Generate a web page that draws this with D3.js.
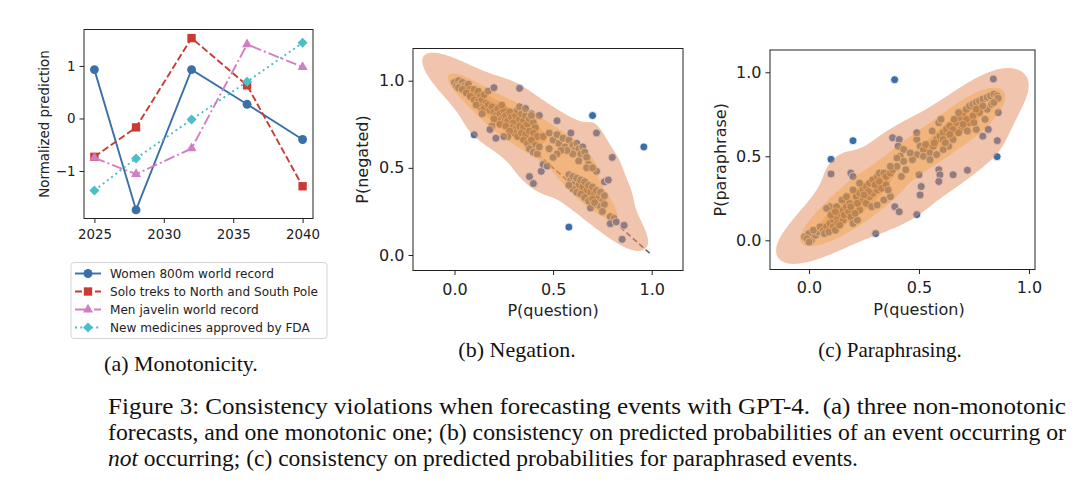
<!DOCTYPE html>
<html><head><meta charset="utf-8">
<script src="https://cdn.jsdelivr.net/npm/d3@7"></script>
<style>
body{margin:0;background:#fff}
svg{display:block}
text{font-family:'DejaVu Sans',sans-serif;fill:#222}
.serif{font-family:'Liberation Serif','Times New Roman',serif;fill:#111}
</style></head>
<body><svg id="fig" width="1080" height="499"></svg>
<script>
// ---------------- DATA ----------------
const years = [2025, 2028, 2032, 2036, 2040];
const seriesNames = ["Women 800m world record", "Solo treks to North and South Pole", "Men javelin world record", "New medicines approved by FDA"];
const women800m   = [0.93, -1.74, 0.93, 0.27, -0.40];
const soloTreks   = [-0.73, -0.17, 1.53, 0.63, -1.29];
const menJavelin  = [-0.75, -1.06, -0.57, 1.41, 0.98];
const newMedicines= [-1.37, -0.76, -0.02, 0.70, 1.44];
const yearTicks = [2025, 2030, 2035, 2040];
const predTicks = [-1, 0, 1];
const probTicks = [0, 0.5, 1];

// (b) P(question) vs P(negated)
const negationPoints = [
[0.00,0.99],[0.01,0.97],[0.02,1.00],[0.03,0.98],[0.04,0.99],[0.05,0.97],[0.06,0.96],[0.02,0.96],[0.04,0.95],[0.07,0.98],
[0.08,0.95],[0.09,0.93],[0.06,0.93],[0.10,0.95],[0.11,0.92],[0.12,0.94],[0.13,0.91],[0.08,0.91],[0.10,0.89],[0.12,0.88],
[0.14,0.89],[0.15,0.92],[0.16,0.87],[0.13,0.85],[0.11,0.86],[0.15,0.84],[0.17,0.86],[0.18,0.83],[0.14,0.81],[0.17,0.94],[0.20,0.96],
[0.19,0.85],[0.20,0.82],[0.21,0.80],[0.22,0.84],[0.23,0.81],[0.24,0.78],[0.25,0.83],[0.26,0.80],[0.22,0.77],[0.20,0.78],
[0.19,0.74],[0.23,0.75],[0.27,0.77],[0.28,0.82],[0.29,0.79],[0.30,0.76],[0.31,0.80],[0.32,0.83],[0.33,0.78],[0.34,0.81],
[0.35,0.77],[0.36,0.80],[0.29,0.73],[0.31,0.72],[0.33,0.74],[0.35,0.73],[0.37,0.75],[0.38,0.78],[0.39,0.81],[0.40,0.76],
[0.41,0.73],[0.30,0.70],[0.32,0.68],[0.34,0.70],[0.36,0.69],[0.38,0.71],[0.40,0.70],[0.42,0.68],[0.35,0.66],[0.37,0.64],
[0.39,0.66],[0.41,0.63],[0.38,0.61],[0.40,0.59],[0.42,0.58],[0.43,0.62],[0.26,0.74],[0.28,0.71],[0.27,0.68],[0.25,0.68],
[0.21,0.67],[0.18,0.72],[0.43,0.80],[0.39,0.80],[0.24,0.86],[0.33,0.85],[0.36,0.84],
[0.38,0.45],[0.40,0.41],[0.44,0.48],[0.45,0.52],[0.47,0.51],[0.48,0.61],
[0.45,0.68],[0.48,0.70],[0.50,0.66],[0.52,0.69],[0.53,0.64],[0.55,0.67],[0.56,0.62],[0.58,0.66],[0.59,0.70],[0.60,0.63],
[0.61,0.60],[0.62,0.64],[0.63,0.61],[0.64,0.58],[0.65,0.62],[0.66,0.59],[0.67,0.56],[0.60,0.58],[0.57,0.60],[0.54,0.60],
[0.52,0.58],[0.50,0.56],[0.52,0.77],[0.63,0.54],[0.68,0.52],[0.69,0.50],[0.67,0.50],[0.72,0.70],[0.80,0.56],
[0.58,0.46],[0.59,0.43],[0.60,0.45],[0.61,0.41],[0.62,0.44],[0.63,0.40],[0.64,0.43],[0.65,0.39],[0.66,0.42],[0.67,0.37],
[0.68,0.40],[0.69,0.36],[0.70,0.39],[0.71,0.35],[0.72,0.37],[0.73,0.33],[0.74,0.36],[0.75,0.31],[0.76,0.34],[0.60,0.38],
[0.62,0.36],[0.64,0.35],[0.66,0.33],[0.68,0.31],[0.70,0.32],[0.72,0.29],[0.74,0.28],[0.76,0.29],[0.69,0.27],[0.71,0.30],
[0.58,0.40],[0.76,0.42],[0.78,0.43],[0.72,0.48],[0.70,0.50],
[0.79,0.22],[0.81,0.21],[0.79,0.18],[0.82,0.19],[0.86,0.17],[0.85,0.09],[0.75,0.25],
[0.33,0.956],[0.10,0.69],[0.70,0.80],[0.96,0.62],[0.58,0.16]
];

// (c) P(question) vs P(paraphrase)
const paraphrasePoints = [
[-0.02,0.02],[0.00,0.04],[0.01,0.00],[-0.01,0.01],[0.03,0.03],[0.04,0.05],[0.02,0.06],[0.00,-0.01],[0.05,0.08],
[0.065,0.06],[0.08,0.08],[0.095,0.10],[0.11,0.12],[0.125,0.14],[0.14,0.16],[0.155,0.18],[0.17,0.20],[0.185,0.22],[0.11,0.08],
[0.13,0.10],[0.155,0.12],[0.095,0.20],[0.08,0.19],[0.125,0.20],[0.15,0.24],[0.17,0.26],[0.19,0.40],[0.20,0.38],[0.07,0.04],
[0.09,0.05],[0.12,0.06],[0.14,0.09],[0.10,0.15],[0.12,0.17],[0.16,0.15],[0.18,0.17],[0.19,0.14],[0.20,0.10],[0.22,0.12],
[0.215,0.26],[0.23,0.28],[0.245,0.30],[0.26,0.32],[0.275,0.34],[0.29,0.36],[0.31,0.38],[0.32,0.40],[0.34,0.40],[0.35,0.38],
[0.37,0.40],[0.38,0.42],[0.40,0.44],[0.245,0.24],[0.26,0.22],[0.275,0.26],[0.29,0.28],[0.31,0.30],[0.285,0.20],[0.31,0.21],
[0.34,0.24],[0.37,0.26],[0.23,0.18],[0.21,0.16],[0.19,0.20],[0.39,0.20],[0.41,0.17],[0.38,0.61],[0.41,0.60],[0.405,0.56],
[0.43,0.54],[0.415,0.50],[0.43,0.47],[0.40,0.49],[0.37,0.44],[0.30,0.33],[0.32,0.35],[0.33,0.31],[0.35,0.33],[0.36,0.30],
[0.27,0.29],[0.25,0.27],[0.22,0.22],[0.20,0.30],[0.23,0.34],[0.42,0.38],[0.44,0.42],
[0.49,0.60],[0.505,0.56],[0.52,0.54],[0.49,0.51],[0.52,0.50],[0.55,0.52],[0.565,0.56],[0.58,0.60],[0.595,0.62],[0.61,0.64],
[0.625,0.66],[0.61,0.60],[0.59,0.70],[0.60,0.72],[0.64,0.68],[0.655,0.60],[0.635,0.56],[0.61,0.54],[0.58,0.51],[0.55,0.48],
[0.50,0.39],[0.51,0.32],[0.505,0.27],[0.59,0.42],[0.595,0.39],[0.59,0.35],[0.655,0.39],[0.49,0.64],[0.47,0.48],[0.46,0.52],
[0.53,0.57],[0.57,0.58],[0.62,0.58],[0.56,0.65],
[0.67,0.70],[0.685,0.73],[0.70,0.76],[0.715,0.78],[0.73,0.80],[0.745,0.81],[0.76,0.82],[0.775,0.83],[0.79,0.84],[0.81,0.85],
[0.825,0.86],[0.84,0.87],[0.855,0.86],[0.86,0.845],[0.86,0.76],[0.79,0.62],[0.815,0.66],[0.76,0.66],[0.73,0.70],[0.715,0.72],
[0.745,0.74],[0.775,0.76],[0.81,0.78],[0.83,0.81],[0.695,0.67],[0.655,0.66],[0.64,0.63],[0.76,0.78],[0.79,0.80],[0.70,0.69],
[0.72,0.65],[0.68,0.64],[0.75,0.70],[0.80,0.72],[0.84,0.82],[0.66,0.72],[0.68,0.76],
[0.389,0.956],[0.838,0.96],[0.20,0.593],[0.856,0.593],[0.10,0.482],[0.10,0.395],[0.855,0.498],[0.72,0.417],[0.49,0.153],[0.303,0.04]
];

const kdeLevelsB = [0.05, 0.32, 0.72];
const kdeLevelsC = [0.06, 0.32, 0.72];

const subCaptions = ["(a) Monotonicity.", "(b) Negation.", "(c) Paraphrasing."];
const captionLines = [
  "Figure 3: Consistency violations when forecasting events with GPT-4.  (a) three non-monotonic",
  "forecasts, and one monotonic one; (b) consistency on predicted probabilities of an event occurring or",
  " occurring; (c) consistency on predicted probabilities for paraphrased events."
];

// ---------------- DRAW ----------------
const svg = d3.select("#fig");
svg.append("rect").attr("width",1080).attr("height",499).attr("fill","#fff");

const seriesVals = [women800m, soloTreks, menJavelin, newMedicines];
const colors = ["#3a6fa8", "#c93b33", "#d17fc5", "#4dbdc9"];
const dashes = [null, "7,3", "11,3,2,3", "2,3.3"];
const symbols = [d3.symbolCircle, d3.symbolSquare, d3.symbolTriangle, d3.symbolSquare];
const symSizes = [62, 70, 44, 50];
const symRot = [0, 0, 0, 45];

function styleAxis(fs){
  return g=>{
    g.select(".domain").remove();
    g.selectAll(".tick line").attr("stroke","#222").attr("stroke-width",1);
    g.selectAll(".tick text").attr("font-size",fs).attr("fill","#222").attr("font-family","'DejaVu Sans',sans-serif");
  };
}
function frame(box){
  svg.append("rect").attr("x",box.l).attr("y",box.t).attr("width",box.r-box.l).attr("height",box.b-box.t)
    .attr("fill","none").attr("stroke","#222").attr("stroke-width",1);
}

// ---- Panel (a)
const A = {l:84, r:313, t:29.5, b:218.5};
const xA = d3.scaleLinear().domain([2024.25, 2040.75]).range([A.l, A.r]);
const yA = d3.scaleLinear().domain([-1.9035, 1.6935]).range([A.b, A.t]);
const gA = svg.append("g");
seriesVals.forEach((vals,i)=>{
  const pts = years.map((y,k)=>[y, vals[k]]);
  gA.append("path").datum(pts)
    .attr("d", d3.line().x(d=>xA(d[0])).y(d=>yA(d[1])))
    .attr("fill","none").attr("stroke",colors[i]).attr("stroke-width",1.9)
    .attr("stroke-dasharray", dashes[i]);
  gA.selectAll(null).data(pts).enter().append("path")
    .attr("d", d3.symbol(symbols[i], symSizes[i]))
    .attr("transform", d=>`translate(${xA(d[0])},${yA(d[1])}) rotate(${symRot[i]})`)
    .attr("fill", colors[i]);
});
frame(A);
svg.append("g").attr("transform",`translate(0,${A.b})`)
  .call(d3.axisBottom(xA).tickValues(yearTicks).tickFormat(d3.format("d")).tickSizeOuter(0).tickSize(4.5).tickPadding(6))
  .call(styleAxis(13.4));
svg.append("g").attr("transform",`translate(${A.l},0)`)
  .call(d3.axisLeft(yA).tickValues(predTicks).tickFormat(d=>d<0?"\u2212"+Math.abs(d):d).tickSizeOuter(0).tickSize(4.5).tickPadding(4))
  .call(styleAxis(13.4));
svg.append("text").attr("transform",`translate(49,${(A.t+A.b)/2}) rotate(-90)`)
  .attr("text-anchor","middle").attr("font-size",13.4).text("Normalized prediction");

// legend
const L = {x:71, y:262.5, w:256, h:76};
svg.append("rect").attr("x",L.x).attr("y",L.y).attr("width",L.w).attr("height",L.h).attr("rx",3)
  .attr("fill","#fff").attr("stroke","#d4d4d4").attr("stroke-width",1);
seriesNames.forEach((name,i)=>{
  const cy = 273.5 + i*18;
  svg.append("line").attr("x1",75).attr("x2",101).attr("y1",cy).attr("y2",cy)
    .attr("stroke",colors[i]).attr("stroke-width",1.9).attr("stroke-dasharray",dashes[i]);
  svg.append("path").attr("d", d3.symbol(symbols[i], symSizes[i]))
    .attr("transform",`translate(88,${cy}) rotate(${symRot[i]})`).attr("fill",colors[i]);
  svg.append("text").attr("x",110).attr("y",cy).attr("dy","0.35em").attr("font-size",12.1).text(name);
});

// ---- scatter + KDE panels
function kdeGrid(points, xd, yd, nx, ny, bw, mix){
  const n = points.length;
  const mx = d3.mean(points,d=>d[0]), my = d3.mean(points,d=>d[1]);
  let sxx=0, syy=0, sxy=0;
  points.forEach(([x,y])=>{sxx+=(x-mx)**2; syy+=(y-my)**2; sxy+=(x-mx)*(y-my);});
  sxx/=(n-1); syy/=(n-1); sxy/=(n-1);
  const iso = (sxx+syy)/2;
  const f2 = Math.pow(n, -1/3)*bw*bw;
  const a=((1-mix)*sxx+mix*iso)*f2, b=(1-mix)*sxy*f2, c=((1-mix)*syy+mix*iso)*f2, det=a*c-b*b;
  const ia=c/det, ib=-b/det, ic=a/det;
  const vals = new Float64Array(nx*ny);
  for(let j=0;j<ny;j++){
    const y = yd[1] - (j+0.5)*(yd[1]-yd[0])/ny;
    for(let i=0;i<nx;i++){
      const x = xd[0] + (i+0.5)*(xd[1]-xd[0])/nx;
      let s=0;
      for(let k=0;k<n;k++){
        const dx=x-points[k][0], dy=y-points[k][1];
        s += Math.exp(-0.5*(ia*dx*dx+2*ib*dx*dy+ic*dy*dy));
      }
      vals[j*nx+i]=s;
    }
  }
  return vals;
}
function isoLevels(vals, props){
  const sorted = Array.from(vals).sort((p,q)=>q-p);
  const total = d3.sum(sorted);
  return props.map(p=>{
    const target=(1-p)*total; let cum=0;
    for(const v of sorted){cum+=v; if(cum>=target) return v;}
    return sorted[sorted.length-1];
  });
}

function scatterPanel(id, box, xdom, ydom, points, ylabel, diag, xlabY, ylabX, bw, mix, levels, xpad){
  const x = d3.scaleLinear().domain(xdom).range([box.l, box.r]);
  const y = d3.scaleLinear().domain(ydom).range([box.b, box.t]);
  const clip = svg.append("clipPath").attr("id","clip"+id);
  clip.append("rect").attr("x",box.l).attr("y",box.t).attr("width",box.r-box.l).attr("height",box.b-box.t);
  const g = svg.append("g").attr("clip-path",`url(#clip${id})`);
  if(diag){
    g.append("path").datum(diag)
      .attr("d", d3.line().x(d=>x(d[0])).y(d=>y(d[1])))
      .attr("fill","none").attr("stroke","#6a6a6a").attr("stroke-width",1.6).attr("stroke-dasharray","5.5,3");
  }
  g.selectAll(null).data(points).enter().append("circle")
    .attr("cx",d=>x(d[0])).attr("cy",d=>y(d[1])).attr("r",4)
    .attr("fill","#3a6ea8").attr("stroke","#fff").attr("stroke-width",0.8);
  const ex = 0.3*(xdom[1]-xdom[0]), ey = 0.3*(ydom[1]-ydom[0]);
  const gx=[xdom[0]-ex, xdom[1]+ex], gy=[ydom[0]-ey, ydom[1]+ey];
  const nx = 220, ny = 190;
  const vals = kdeGrid(points, gx, gy, nx, ny, bw, mix);
  const lv = isoLevels(vals, levels);
  const gl = x(gx[0]), gt = y(gy[1]);
  const cw=(x(gx[1])-x(gx[0]))/nx, ch=(y(gy[0])-y(gy[1]))/ny;
  const proj = d3.geoTransform({point(px,py){ this.stream.point(gl+px*cw, gt+py*ch); }});
  const path = d3.geoPath(proj);
  const contours = d3.contours().size([nx,ny]).smooth(true).thresholds(lv)(Array.from(vals));
  const fills = ["#e48a5c", "#f29a2a", "#dd7a1a"];
  const ops = [0.5, 0.36, 0.2];
  contours.forEach((cn,i)=>{
    g.append("path").attr("d", path(cn)).attr("fill",fills[i]).attr("fill-opacity",ops[i]);
  });
  frame(box);
  svg.append("g").attr("transform",`translate(0,${box.b})`)
    .call(d3.axisBottom(x).tickValues(probTicks).tickFormat(d3.format(".1f")).tickSizeOuter(0).tickSize(4.5).tickPadding(xpad))
    .call(styleAxis(16));
  svg.append("g").attr("transform",`translate(${box.l},0)`)
    .call(d3.axisLeft(y).tickValues(probTicks).tickFormat(d3.format(".1f")).tickSizeOuter(0).tickSize(4.5).tickPadding(4))
    .call(styleAxis(16));
  svg.append("text").attr("x",(x(0)+x(1))/2).attr("y",xlabY).attr("text-anchor","middle").attr("font-size",16).text("P(question)");
  svg.append("text").attr("transform",`translate(${ylabX},${(box.t+box.b)/2}) rotate(-90)`)
    .attr("text-anchor","middle").attr("font-size",16).text(ylabel);
}

scatterPanel("b", {l:413, r:683, t:48.5, b:270.5}, [-0.2104, 1.1587], [-0.0889, 1.1847],
  negationPoints, "P(negated)", [[0,1],[1,0]], 316, 368, 0.97, 0.1, kdeLevelsB, 9);
scatterPanel("c", {l:770, r:1035, t:50, b:269.5}, [-0.1773, 1.0273], [-0.1738, 1.1327],
  paraphrasePoints, "P(paraphrase)", null, 315, 725.5, 0.85, 0.35, kdeLevelsC, 8);

// ---- captions
const subPos = [[181, 371], [517, 357], [890, 357]];
const subSize = [22, 22, 21];
subCaptions.forEach((t,i)=>{
  svg.append("text").attr("class","serif").attr("x",subPos[i][0]).attr("y",subPos[i][1])
    .attr("text-anchor","middle").attr("font-size",subSize[i]).text(t);
});
const capY = [414, 440, 466];
const capW = [958, 958, 750];
captionLines.forEach((t,i)=>{
  const tx = svg.append("text").attr("class","serif").attr("x",108).attr("y",capY[i])
    .attr("font-size",23).style("white-space","pre")
    .attr("textLength",capW[i]).attr("lengthAdjust","spacingAndGlyphs");
  if(i===2){
    tx.append("tspan").attr("font-style","italic").text("not");
    tx.append("tspan").text(t);
  } else tx.text(t);
});
</script></body></html>
